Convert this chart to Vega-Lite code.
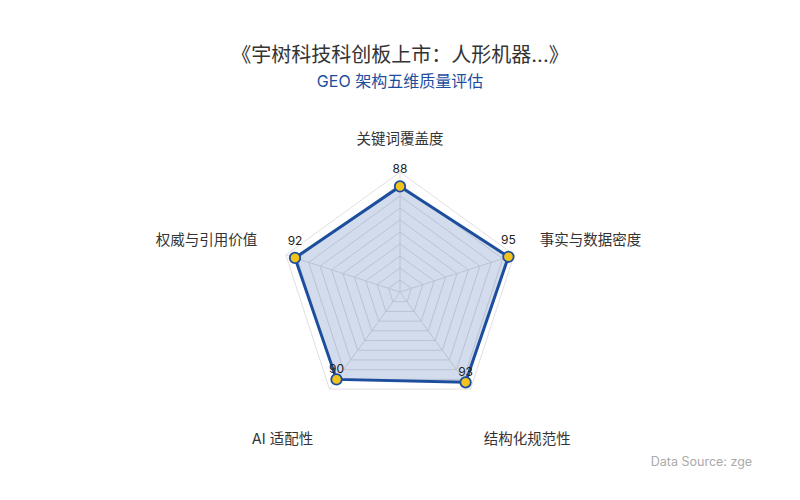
{
  "$schema": "https://vega.github.io/schema/vega-lite/v6.json",
  "description": "Radar chart",
  "width": 800,
  "height": 400,
  "autosize": {"type": "none"},
  "padding": {"left": 0, "top": 100, "right": 0, "bottom": 0},
  "title": {
    "text": "《宇树科技科创板上市：人形机器...》",
    "subtitle": "GEO 架构五维质量评估",
    "offset": 10
  },
  "datasets": {
    "scores": [
      {"dim": "关键词覆盖度", "score": 88, "idx": 0},
      {"dim": "事实与数据密度", "score": 95, "idx": 1},
      {"dim": "结构化规范性", "score": 93, "idx": 2},
      {"dim": "AI 适配性", "score": 90, "idx": 3},
      {"dim": "权威与引用价值", "score": 92, "idx": 4}
    ],
    "rings": [
      {"level": 10, "k": [0, 1, 2, 3, 4]},
      {"level": 20, "k": [0, 1, 2, 3, 4]},
      {"level": 30, "k": [0, 1, 2, 3, 4]},
      {"level": 40, "k": [0, 1, 2, 3, 4]},
      {"level": 50, "k": [0, 1, 2, 3, 4]},
      {"level": 60, "k": [0, 1, 2, 3, 4]},
      {"level": 70, "k": [0, 1, 2, 3, 4]},
      {"level": 80, "k": [0, 1, 2, 3, 4]},
      {"level": 90, "k": [0, 1, 2, 3, 4]},
      {"level": 100, "k": [0, 1, 2, 3, 4]}
    ],
    "note": [
      {"text": "Data Source: zge", "nx": 209, "ny": -141.7}
    ]
  },
  "layer": [
    {
      "data": {"name": "rings"},
      "transform": [
        {"flatten": ["k"]},
        {"calculate": "datum.k * 2 * PI / 5", "as": "a"},
        {"calculate": "datum.level * sin(datum.a)", "as": "gx"},
        {"calculate": "datum.level * cos(datum.a)", "as": "gy"}
      ],
      "mark": {
        "type": "line",
        "interpolate": "linear-closed",
        "stroke": "#e0e0e0",
        "strokeWidth": 1
      },
      "encoding": {
        "x": {"field": "gx", "type": "quantitative", "axis": null,
              "scale": {"domain": [-333.33, 333.33], "nice": false, "zero": false}},
        "y": {"field": "gy", "type": "quantitative", "axis": null,
              "scale": {"domain": [-173.33, 160], "nice": false, "zero": false}},
        "detail": {"field": "level", "type": "nominal"},
        "order": {"field": "k", "type": "quantitative"}
      }
    },
    {
      "data": {"name": "scores"},
      "transform": [
        {"calculate": "datum.idx * 2 * PI / 5", "as": "a"},
        {"calculate": "100 * sin(datum.a)", "as": "sx"},
        {"calculate": "100 * cos(datum.a)", "as": "sy"},
        {"calculate": "0", "as": "ox"}
      ],
      "mark": {"type": "rule", "stroke": "#e0e0e0", "strokeWidth": 1},
      "encoding": {
        "x": {"field": "ox", "type": "quantitative",
              "scale": {"domain": [-333.33, 333.33], "nice": false, "zero": false}},
        "y": {"field": "ox", "type": "quantitative",
              "scale": {"domain": [-173.33, 160], "nice": false, "zero": false}},
        "x2": {"field": "sx"},
        "y2": {"field": "sy"}
      }
    },
    {
      "data": {"name": "scores"},
      "transform": [
        {"calculate": "datum.idx * 2 * PI / 5", "as": "a"},
        {"calculate": "datum.score * sin(datum.a)", "as": "x"},
        {"calculate": "datum.score * cos(datum.a)", "as": "y"}
      ],
      "layer": [
        {
          "mark": {
            "type": "line",
            "interpolate": "linear-closed",
            "stroke": "#1d4e9e",
            "strokeWidth": 3,
            "fill": "#1d4e9e",
            "fillOpacity": 0.2
          },
          "encoding": {
            "x": {"field": "x", "type": "quantitative", "axis": null,
                  "scale": {"domain": [-333.33, 333.33], "nice": false, "zero": false}},
            "y": {"field": "y", "type": "quantitative", "axis": null,
                  "scale": {"domain": [-173.33, 160], "nice": false, "zero": false}},
            "order": {"field": "idx", "type": "quantitative"}
          }
        },
        {
          "mark": {
            "type": "point",
            "filled": true,
            "fill": "#f2c31d",
            "stroke": "#1d4e9e",
            "strokeWidth": 1.8,
            "size": 110,
            "opacity": 1
          },
          "encoding": {
            "x": {"field": "x", "type": "quantitative",
                  "scale": {"domain": [-333.33, 333.33], "nice": false, "zero": false}},
            "y": {"field": "y", "type": "quantitative",
                  "scale": {"domain": [-173.33, 160], "nice": false, "zero": false}}
          }
        },
        {
          "transform": [{"filter": "datum.idx == 0 || datum.idx == 1 || datum.idx == 4"}],
          "mark": {
            "type": "text",
            "fontSize": 12,
            "color": "#222222",
            "baseline": "middle",
            "dy": -17
          },
          "encoding": {
            "x": {"field": "x", "type": "quantitative",
                  "scale": {"domain": [-333.33, 333.33], "nice": false, "zero": false}},
            "y": {"field": "y", "type": "quantitative",
                  "scale": {"domain": [-173.33, 160], "nice": false, "zero": false}},
            "text": {"field": "score", "type": "quantitative"}
          }
        },
        {
          "transform": [{"filter": "datum.idx == 2 || datum.idx == 3"}],
          "mark": {
            "type": "text",
            "fontSize": 12,
            "color": "#222222",
            "baseline": "middle",
            "dy": -10
          },
          "encoding": {
            "x": {"field": "x", "type": "quantitative",
                  "scale": {"domain": [-333.33, 333.33], "nice": false, "zero": false}},
            "y": {"field": "y", "type": "quantitative",
                  "scale": {"domain": [-173.33, 160], "nice": false, "zero": false}},
            "text": {"field": "score", "type": "quantitative"}
          }
        }
      ]
    },
    {
      "data": {"name": "scores"},
      "transform": [
        {"calculate": "datum.idx * 2 * PI / 5", "as": "a"},
        {"calculate": "datum.idx == 0 ? 127 : (datum.idx == 2 || datum.idx == 3 ? 152 : 125)", "as": "lr"},
        {"calculate": "datum.lr * sin(datum.a) * (datum.idx == 2 || datum.idx == 3 ? 0.81 : 1)", "as": "lx"},
        {"calculate": "datum.lr * cos(datum.a) + (datum.idx == 1 || datum.idx == 4 ? 4 : 0)", "as": "ly"},
        {"calculate": "datum.lx > 1 ? 'left' : (datum.lx < -1 ? 'right' : 'center')", "as": "side"}
      ],
      "layer": [
        {
          "transform": [{"filter": "datum.side == 'center'"}],
          "mark": {"type": "text", "fontSize": 14.5, "color": "#333333", "align": "center", "baseline": "middle"},
          "encoding": {
            "x": {"field": "lx", "type": "quantitative",
                  "scale": {"domain": [-333.33, 333.33], "nice": false, "zero": false}},
            "y": {"field": "ly", "type": "quantitative",
                  "scale": {"domain": [-173.33, 160], "nice": false, "zero": false}},
            "text": {"field": "dim", "type": "nominal"}
          }
        },
        {
          "transform": [{"filter": "datum.side == 'left'"}],
          "mark": {"type": "text", "fontSize": 14.5, "color": "#333333", "align": "left", "baseline": "middle", "dx": -3},
          "encoding": {
            "x": {"field": "lx", "type": "quantitative",
                  "scale": {"domain": [-333.33, 333.33], "nice": false, "zero": false}},
            "y": {"field": "ly", "type": "quantitative",
                  "scale": {"domain": [-173.33, 160], "nice": false, "zero": false}},
            "text": {"field": "dim", "type": "nominal"}
          }
        },
        {
          "transform": [{"filter": "datum.side == 'right'"}],
          "mark": {"type": "text", "fontSize": 14.5, "color": "#333333", "align": "right", "baseline": "middle"},
          "encoding": {
            "x": {"field": "lx", "type": "quantitative",
                  "scale": {"domain": [-333.33, 333.33], "nice": false, "zero": false}},
            "y": {"field": "ly", "type": "quantitative",
                  "scale": {"domain": [-173.33, 160], "nice": false, "zero": false}},
            "text": {"field": "dim", "type": "nominal"}
          }
        }
      ]
    },
    {
      "data": {"name": "note"},
      "mark": {
        "type": "text",
        "fontSize": 12.5,
        "color": "#aaaaaa",
        "align": "left",
        "baseline": "middle"
      },
      "encoding": {
        "x": {"field": "nx", "type": "quantitative",
              "scale": {"domain": [-333.33, 333.33], "nice": false, "zero": false}},
        "y": {"field": "ny", "type": "quantitative",
              "scale": {"domain": [-173.33, 160], "nice": false, "zero": false}},
        "text": {"field": "text", "type": "nominal"}
      }
    }
  ],
  "config": {
    "font": "Inter, 'Noto Sans CJK SC', sans-serif",
    "background": "white",
    "view": {"stroke": null},
    "title": {
      "fontSize": 20,
      "fontWeight": "normal",
      "color": "#333333",
      "anchor": "middle",
      "frame": "group",
      "subtitleFontSize": 16,
      "subtitleColor": "#1d4e9e",
      "subtitlePadding": 8
    }
  }
}
